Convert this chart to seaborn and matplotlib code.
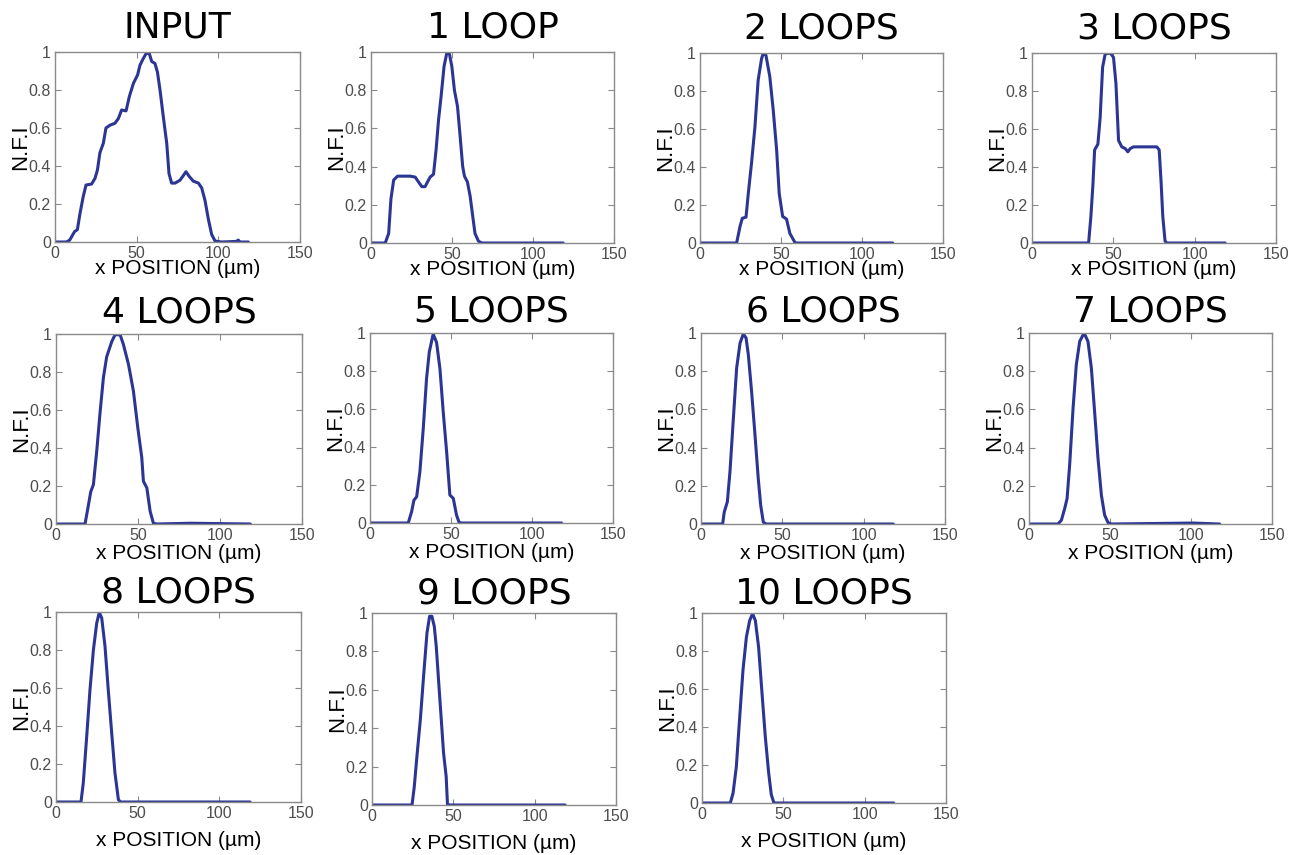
import matplotlib
matplotlib.use("Agg")
import matplotlib.pyplot as plt
import seaborn as sns

titles = ['INPUT', '1 LOOP', '2 LOOPS', '3 LOOPS', '4 LOOPS', '5 LOOPS',
          '6 LOOPS', '7 LOOPS', '8 LOOPS', '9 LOOPS', '10 LOOPS']

# profiles: x in um, y normalised intensity
x_input = [0, 7, 9, 12, 13.7, 15.3, 17.3, 19, 22.4, 24.5, 26, 27.5, 29.6, 31.2, 33.7, 36.7,
           38.8, 40.8, 43.5, 45.5, 48, 50.6, 52, 54, 56, 57.8, 59.2, 61.2, 62.7, 64.3, 66.3,
           68.4, 69.8, 71.4, 73.5, 76.5, 78.6, 80.2, 82.2, 84.7, 87.8, 89.8, 91.8, 93.9, 95.9,
           98, 102, 111, 112.2, 113.3, 118.4]
y_input = [0, 0, 0.01, 0.055, 0.065, 0.15, 0.24, 0.3, 0.305, 0.335, 0.38, 0.47, 0.52, 0.6, 0.615,
           0.625, 0.65, 0.695, 0.69, 0.765, 0.835, 0.88, 0.93, 0.965, 0.995, 0.99, 0.95, 0.94,
           0.895, 0.8, 0.66, 0.52, 0.36, 0.31, 0.31, 0.325, 0.35, 0.37, 0.345, 0.32, 0.31, 0.285,
           0.22, 0.12, 0.04, 0.005, 0, 0.003, 0.01, 0, 0]

x_loop1 = [0, 8.8, 10.9, 12.3, 14, 16.4, 24.2, 27.3, 29.3, 31.4, 33.4, 34.9, 36.5, 38.6, 40.2,
           41.7, 43.3, 45.1, 46.8, 48.4, 49.9, 51.5, 53.4, 55, 56.6, 57.7, 59.5, 61.2, 62.8,
           64.2, 66.3, 68.3, 118.6]
y_loop1 = [0, 0, 0.05, 0.23, 0.33, 0.35, 0.35, 0.345, 0.32, 0.295, 0.295, 0.32, 0.345, 0.36,
           0.49, 0.645, 0.77, 0.925, 0.995, 0.99, 0.925, 0.8, 0.715, 0.56, 0.4, 0.35, 0.32,
           0.245, 0.14, 0.05, 0.01, 0, 0]

x_loop2 = [0, 22.6, 24.7, 26.1, 28.4, 29.8, 31.8, 33.9, 35.9, 38, 39, 40.7, 43.1, 45.2, 47.3,
           48.9, 51, 53.4, 55.5, 58.6, 59.6, 119]
y_loop2 = [0, 0, 0.087, 0.13, 0.136, 0.26, 0.42, 0.61, 0.857, 0.97, 0.997, 0.988, 0.875, 0.7,
           0.49, 0.26, 0.14, 0.126, 0.05, 0.003, 0, 0]

x_loop3 = [0, 34.8, 36.2, 37.4, 38.5, 40.5, 41.9, 43.4, 45, 48.1, 50.1, 51.6, 53.2, 55.2, 57.3,
           58.9, 60.4, 62.4, 76.7, 78.2, 79.4, 80.4, 81.8, 82.9, 105.4, 118.7]
y_loop3 = [0, 0, 0.14, 0.3, 0.49, 0.52, 0.66, 0.925, 0.995, 1.0, 0.977, 0.84, 0.54, 0.506, 0.497,
           0.48, 0.497, 0.506, 0.506, 0.49, 0.314, 0.14, 0.01, 0, 0, 0]

x_loop4 = [0, 17.7, 19.1, 21.2, 22.8, 24.8, 26.9, 28.9, 30.9, 34, 36, 39.1, 41.1, 44.2, 47.2,
           49.9, 52.3, 53.3, 55.4, 57.4, 59.4, 61.5, 81.8, 118.5]
y_loop4 = [0, 0, 0.067, 0.17, 0.207, 0.38, 0.59, 0.77, 0.88, 0.96, 0.996, 0.996, 0.945, 0.84,
           0.7, 0.505, 0.35, 0.225, 0.19, 0.067, 0.004, 0, 0.004, 0]

x_loop5 = [0, 23.6, 25.7, 27.1, 28.8, 30.8, 32.9, 34.9, 36.6, 39, 41.1, 43.2, 45.2, 47.3, 49.3,
           51.4, 53.4, 55, 56.5, 118.2]
y_loop5 = [0, 0, 0.06, 0.12, 0.138, 0.27, 0.5, 0.76, 0.9, 0.995, 0.95, 0.81, 0.585, 0.375,
           0.147, 0.13, 0.042, 0.003, 0, 0]

x_loop6 = [0, 13.3, 14.3, 16.2, 17.8, 19.9, 21.9, 24, 26, 27.7, 29.1, 31.1, 33.2, 35.2, 36.7,
           38.3, 40, 118.2]
y_loop6 = [0, 0, 0.063, 0.116, 0.273, 0.553, 0.816, 0.947, 0.995, 0.974, 0.886, 0.694, 0.466,
           0.238, 0.098, 0.01, 0, 0]

x_loop7 = [0, 17.9, 20, 22, 23.5, 25.1, 27.2, 29.2, 31.3, 34, 36.4, 38.5, 40.5, 42.6, 44.7,
           46.7, 48.8, 50.8, 101.2, 117.7]
y_loop7 = [0, 0, 0.02, 0.08, 0.133, 0.31, 0.606, 0.834, 0.956, 1.0, 0.956, 0.816, 0.588, 0.343,
           0.15, 0.046, 0.007, 0, 0.005, 0]

x_loop8 = [0, 15.3, 16.7, 18.8, 20.8, 22.9, 24.9, 26.5, 28, 30, 32, 34.1, 36.1, 38.2, 39.6, 118.8]
y_loop8 = [0, 0, 0.1, 0.345, 0.59, 0.8, 0.94, 0.998, 0.968, 0.82, 0.59, 0.363, 0.153, 0.012, 0, 0]

x_loop9 = [0, 24.6, 26, 27.6, 29.7, 31.7, 33.8, 35.4, 36.8, 38.3, 39.5, 40.9, 42.6, 44, 45.6,
           46.4, 48.1, 118.7]
y_loop9 = [0, 0, 0.096, 0.252, 0.443, 0.67, 0.896, 0.983, 0.983, 0.93, 0.826, 0.652, 0.443,
           0.27, 0.148, 0.003, 0, 0]

x_loop10 = [0, 17.4, 19.1, 21.1, 23.2, 25.2, 27.3, 29.3, 31.1, 32.8, 34.8, 36.9, 38.9, 41, 42.6,
            44.1, 45.1, 117.8]
y_loop10 = [0, 0, 0.052, 0.19, 0.455, 0.7, 0.874, 0.96, 0.997, 0.96, 0.82, 0.577, 0.35, 0.157,
            0.044, 0.003, 0, 0]

xticks = [0, 50, 100, 150]
xtick_labels = ['0', '50', '100', '150']
yticks = [0, 0.2, 0.4, 0.6, 0.8, 1]
ytick_labels = ['0', '0.2', '0.4', '0.6', '0.8', '1']

xs_all = [x_input, x_loop1, x_loop2, x_loop3, x_loop4, x_loop5, x_loop6, x_loop7, x_loop8,
          x_loop9, x_loop10]
ys_all = [y_input, y_loop1, y_loop2, y_loop3, y_loop4, y_loop5, y_loop6, y_loop7, y_loop8,
          y_loop9, y_loop10]

sns.set_style('ticks')
plt.rcParams['font.family'] = ['Liberation Sans', 'DejaVu Sans']

LINE = '#2b3594'
FRAME = '#8a8a8a'
TICKTXT = '#4d4d4d'

W, H = 1298, 855
fig = plt.figure(figsize=(W / 100, H / 100), dpi=100)

# axes boxes in pixels: left, top, right, bottom
boxes = [(55, 52, 300, 242), (371, 52, 614, 243), (700, 53, 943, 243), (1032, 53, 1276, 243),
         (56, 334, 302, 524), (370, 333, 613, 523), (701, 333, 945, 524), (1029, 333, 1272, 524),
         (56, 612, 301, 802), (372, 613, 616, 805), (702, 613, 946, 803)]
# per row: title pad, xlabel pad (points)
title_pad = [10.5, 8.5, 7]
xlabel_pad = [-1.5, 0.5, 7]

for i, ((l, t, r, b), title, xs, ys) in enumerate(zip(boxes, titles, xs_all, ys_all)):
    row = i // 4
    ax = fig.add_axes([l / W, 1 - b / H, (r - l) / W, (b - t) / H])
    sns.lineplot(x=xs, y=ys, ax=ax, color=LINE, linewidth=2.2, sort=False)
    ax.set_xlim(0, 150)
    ax.set_ylim(0, 1)
    ax.set_xticks(xticks)
    ax.set_xticklabels(xtick_labels)
    ax.set_yticks(yticks)
    ax.set_yticklabels(ytick_labels)
    ax.tick_params(direction='in', top=True, right=True, length=4, width=0.8,
                   color=FRAME, labelcolor=TICKTXT, labelsize=11.5, pad=3)
    for s in ax.spines.values():
        s.set_color(FRAME)
        s.set_linewidth(1)
    ax.set_title(title, fontsize=26, family='DejaVu Sans', color='black', pad=title_pad[row])
    ax.set_xlabel('x POSITION (µm)', fontsize=15, color='black', labelpad=xlabel_pad[row])
    ax.set_ylabel('N.F.I', fontsize=16, color='black', labelpad=-2)

fig.savefig('out.png', dpi=100)
